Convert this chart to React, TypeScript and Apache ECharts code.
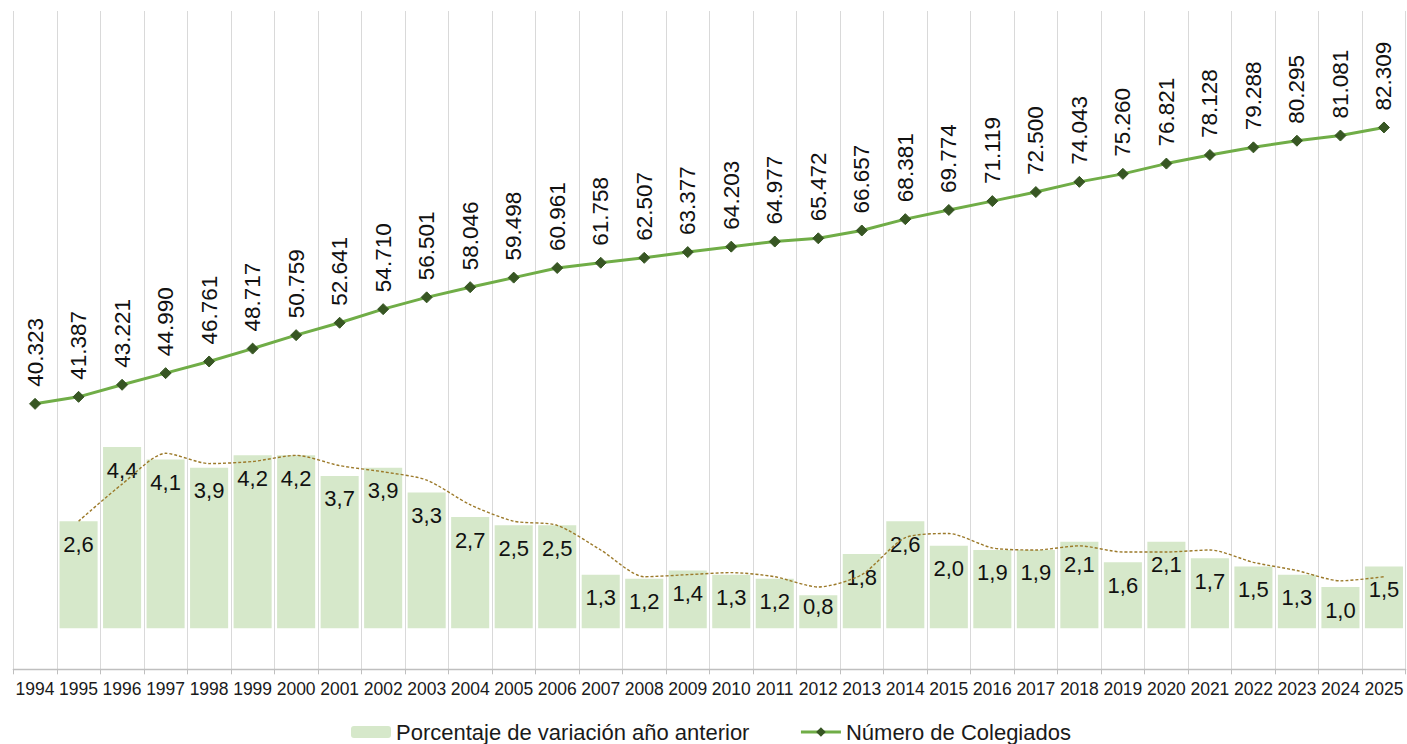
import React, { useEffect, useRef } from "react";
import * as echarts from "echarts";

const years = [
  "1994", "1995", "1996", "1997", "1998", "1999", "2000", "2001", "2002", "2003", "2004",
  "2005", "2006", "2007", "2008", "2009", "2010", "2011", "2012", "2013", "2014", "2015",
  "2016", "2017", "2018", "2019", "2020", "2021", "2022", "2023", "2024", "2025",
];

const colegiados = [
  40323, 41387, 43221, 44990, 46761, 48717, 50759, 52641, 54710, 56501, 58046,
  59498, 60961, 61758, 62507, 63377, 64203, 64977, 65472, 66657, 68381, 69774,
  71119, 72500, 74043, 75260, 76821, 78128, 79288, 80295, 81081, 82309,
];

// 1994 has no variation value
const variacion: (number | null)[] = [
  null, 2.6, 4.4, 4.1, 3.9, 4.2, 4.2, 3.7, 3.9, 3.3, 2.7,
  2.5, 2.5, 1.3, 1.2, 1.4, 1.3, 1.2, 0.8, 1.8, 2.6, 2.0,
  1.9, 1.9, 2.1, 1.6, 2.1, 1.7, 1.5, 1.3, 1.0, 1.5,
];

// dotted trend line
const tendencia: (number | null)[] = [
  null, 2.6, 3.5, 4.25, 4.0, 4.05, 4.2, 3.95, 3.8, 3.6, 3.0,
  2.6, 2.5, 1.9, 1.25, 1.3, 1.35, 1.25, 1.0, 1.3, 2.2, 2.3,
  1.95, 1.9, 2.0, 1.85, 1.85, 1.9, 1.6, 1.4, 1.15, 1.25,
];

const FONT = "'Liberation Sans', Arial, sans-serif";

const fmtThousands = (n: number) =>
  String(n).replace(/\B(?=(\d{3})+(?!\d))/g, ".");
const fmtPct = (n: number) => n.toFixed(1).replace(".", ",");

export default function App() {
  const ref = useRef<HTMLDivElement>(null);

  useEffect(() => {
    document.body.style.margin = "0";
    if (!ref.current) return;
    const chart = echarts.init(ref.current, null, { renderer: "svg" });

    const barData = variacion.map((v) =>
      v === null
        ? null
        : v < 1
        ? { value: v, label: { distance: 0 } }
        : v
    );

    chart.setOption({
      animation: false,
      backgroundColor: "#ffffff",
      textStyle: { fontFamily: FONT },
      grid: { left: 13.3, right: 1.3, top: 11, bottom: 74.7 },
      legend: {
        data: [
          { name: "Porcentaje de variación año anterior" },
          { name: "Número de Colegiados", itemStyle: { color: "#375623" }, lineStyle: { color: "#70ad47", width: 3 } },
        ],
        top: 720,
        left: 351,
        padding: 0,
        itemWidth: 40,
        itemHeight: 12,
        itemGap: 50,
        textStyle: { fontFamily: FONT, fontSize: 22, color: "#1a1a1a", lineHeight: 24 },
      },
      xAxis: {
        type: "category",
        data: years,
        boundaryGap: true,
        axisLine: { show: true, onZero: false, lineStyle: { color: "#bfbfbf", width: 1.3 } },
        axisTick: { show: true, length: 5, interval: 0, lineStyle: { color: "#bfbfbf" } },
        axisLabel: {
          interval: 0,
          margin: 11,
          fontFamily: FONT,
          fontSize: 17.5,
          color: "#1a1a1a",
        },
        splitLine: { show: true, interval: 0, lineStyle: { color: "#d9d9d9", width: 1 } },
      },
      yAxis: [
        { type: "value", min: -1, max: 15, show: false, splitLine: { show: false } },
        { type: "value", min: 0, max: 100000, show: false, splitLine: { show: false } },
      ],
      series: [
        {
          name: "Porcentaje de variación año anterior",
          type: "bar",
          yAxisIndex: 0,
          data: barData,
          barCategoryGap: "12.5%",
          itemStyle: { color: "#d6e8ca" },
          label: {
            show: true,
            position: "insideTop",
            distance: 12,
            fontFamily: FONT,
            fontSize: 22,
            color: "#111111",
            formatter: (p: any) => fmtPct(Number(p.value)),
          },
          z: 1,
        },
        {
          name: "Tendencia",
          type: "line",
          yAxisIndex: 0,
          data: tendencia,
          smooth: 0.25,
          symbol: "none",
          lineStyle: { color: "#9c7a2a", width: 1.4, type: [3, 2] },
          z: 2,
          silent: true,
        },
        {
          name: "Número de Colegiados",
          type: "line",
          yAxisIndex: 1,
          data: colegiados,
          symbol: "diamond",
          symbolSize: 11,
          lineStyle: { color: "#70ad47", width: 3 },
          itemStyle: { color: "#375623", borderColor: "#375623" },
          label: {
            show: true,
            position: "top",
            distance: 11,
            rotate: 90,
            align: "left",
            verticalAlign: "middle",
            fontFamily: FONT,
            fontSize: 22.5,
            color: "#111111",
            formatter: (p: any) => fmtThousands(Number(p.value)),
          },
          z: 3,
        },
      ],
    });

    return () => chart.dispose();
  }, []);

  return <div ref={ref} style={{ width: 1407, height: 744 }} />;
}
